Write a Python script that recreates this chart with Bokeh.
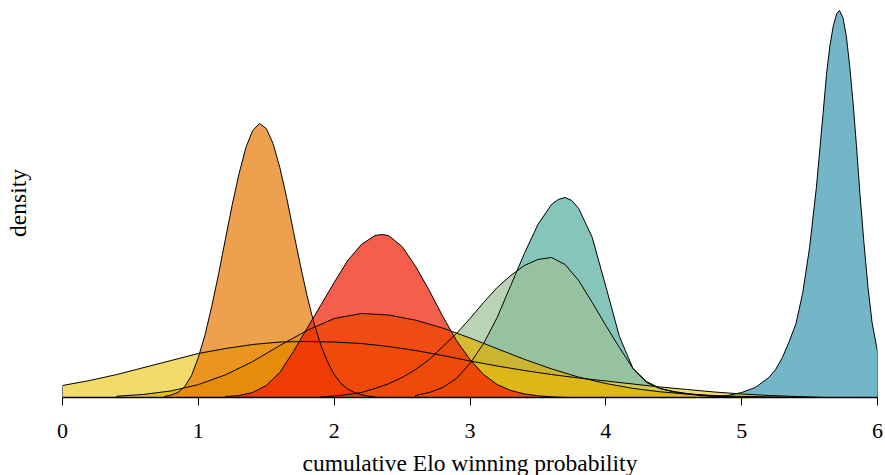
from bokeh.plotting import figure
from bokeh.models import Range1d, FixedTicker
from bokeh.embed import file_html
from bokeh.resources import INLINE

# ---- data (x = cumulative Elo winning probability, y = density, arbitrary units)
blue_x = [4.80, 4.90, 5.00, 5.10, 5.20, 5.25, 5.30, 5.35, 5.40, 5.45, 5.50, 5.55, 5.60, 5.625, 5.65, 5.675, 5.70, 5.72,
          5.745, 5.77, 5.795, 5.82, 5.845, 5.87, 5.90, 5.93, 5.96, 6.00]
blue_y = [0.00, 0.02, 0.05, 0.10, 0.20, 0.28, 0.40, 0.56, 0.74, 1.05, 1.50, 2.10, 2.85, 3.24, 3.52, 3.72, 3.84, 3.87,
          3.80, 3.62, 3.32, 2.95, 2.52, 2.05, 1.55, 1.10, 0.75, 0.46]

teal_x = [2.6, 2.7, 2.8, 2.9, 3.0, 3.1, 3.2, 3.3, 3.4, 3.5, 3.6, 3.65, 3.7, 3.75, 3.8, 3.9, 4.0, 4.1, 4.2, 4.3, 4.4, 4.5, 4.6, 4.7, 4.8, 4.9]
teal_y = [0.02, 0.05, 0.10, 0.19, 0.34, 0.54, 0.80, 1.12, 1.44, 1.73, 1.93, 1.98, 2.00, 1.97, 1.89, 1.60, 1.11, 0.61, 0.29, 0.15, 0.09, 0.055, 0.035, 0.02, 0.01, 0.0]

green_x = [1.9, 2.0, 2.1, 2.2, 2.3, 2.4, 2.5, 2.6, 2.7, 2.8, 2.9, 3.0, 3.1, 3.2, 3.3, 3.4, 3.5, 3.6, 3.7, 3.8, 3.9, 4.0, 4.1, 4.2, 4.3, 4.4, 4.5, 4.6, 4.7, 4.8, 4.9, 5.0]
green_y = [0.005, 0.015, 0.03, 0.05, 0.09, 0.137, 0.20, 0.28, 0.38, 0.51, 0.64, 0.79, 0.95, 1.10, 1.22, 1.32, 1.38, 1.40, 1.33, 1.17, 0.95, 0.72, 0.50, 0.29, 0.16, 0.09, 0.06, 0.04, 0.025, 0.015, 0.008, 0.0]

yellow_x = [0.0, 0.2, 0.4, 0.6, 0.8, 1.0, 1.2, 1.4, 1.6, 1.8, 2.0, 2.2, 2.4, 2.6, 2.8, 3.0, 3.2, 3.4, 3.6, 3.8, 4.0, 4.2, 4.4, 4.6, 4.8, 5.0, 5.2, 5.4, 5.6]
yellow_y = [0.12, 0.17, 0.23, 0.30, 0.37, 0.44, 0.49, 0.53, 0.555, 0.56, 0.555, 0.54, 0.51, 0.47, 0.42, 0.365, 0.315, 0.27, 0.23, 0.195, 0.165, 0.135, 0.105, 0.08, 0.055, 0.035, 0.02, 0.01, 0.0]

gold_x = [0.4, 0.6, 0.8, 1.0, 1.2, 1.4, 1.6, 1.8, 2.0, 2.2, 2.4, 2.6, 2.8, 3.0, 3.2, 3.4, 3.6, 3.8, 4.0, 4.2, 4.4, 4.6, 4.8, 5.0, 5.2, 5.4, 5.6]
gold_y = [0.013, 0.031, 0.066, 0.129, 0.227, 0.36, 0.52, 0.67, 0.79, 0.84, 0.825, 0.773, 0.694, 0.595, 0.488, 0.382, 0.286, 0.204, 0.14, 0.091, 0.057, 0.034, 0.02, 0.011, 0.006, 0.003, 0.0]

orange_x = [0.75, 0.80, 0.85, 0.90, 0.95, 1.00, 1.05, 1.10, 1.15, 1.20, 1.25, 1.30, 1.35, 1.40, 1.45, 1.50, 1.55, 1.60, 1.65, 1.70, 1.75, 1.80, 1.85, 1.90, 1.95, 2.00, 2.05, 2.10, 2.15, 2.20, 2.25, 2.30]
orange_y = [0.01, 0.025, 0.05, 0.11, 0.22, 0.40, 0.63, 0.92, 1.24, 1.59, 1.93, 2.24, 2.50, 2.67, 2.74, 2.69, 2.54, 2.30, 2.00, 1.66, 1.33, 1.02, 0.75, 0.53, 0.36, 0.23, 0.14, 0.085, 0.049, 0.027, 0.014, 0.007]

red_x = [1.2, 1.3, 1.4, 1.5, 1.6, 1.7, 1.8, 1.9, 2.0, 2.1, 2.2, 2.3, 2.35, 2.4, 2.5, 2.6, 2.7, 2.8, 2.9, 3.0, 3.1, 3.2, 3.3, 3.4, 3.5, 3.6, 3.7]
red_y = [0.01, 0.02, 0.05, 0.12, 0.25, 0.46, 0.69, 0.92, 1.15, 1.37, 1.53, 1.62, 1.63, 1.62, 1.51, 1.31, 1.07, 0.81, 0.57, 0.38, 0.23, 0.13, 0.07, 0.036, 0.017, 0.007, 0.0]

x_ticks = [0, 1, 2, 3, 4, 5, 6]

# draw order and colours
series = [
    (blue_x, blue_y, "#3897AF"),
    (teal_x, teal_y, "#53AC9B"),
    (green_x, green_y, "#9EC095"),
    (yellow_x, yellow_y, "#EBCC2A"),
    (gold_x, gold_y, "#E1AF00"),
    (orange_x, orange_y, "#E57702"),
    (red_x, red_y, "#F21A00"),
]

FONT = "Liberation Serif"

p = figure(frame_width=815, frame_height=389,
           x_range=Range1d(0, 6), y_range=Range1d(0, 3.89),
           output_backend="svg", toolbar_location=None,
           min_border_left=62, min_border_right=8, min_border_top=8, min_border_bottom=0)
p.outline_line_color = None
p.grid.visible = False
p.background_fill_color = "white"

polys = []
for xs, ys, col in series:
    px = [xs[0]] + list(xs) + [xs[-1]]
    py = [0] + list(ys) + [0]
    polys.append((px, py))
    p.patch(px, py, fill_color=col, fill_alpha=0.7, line_color=None)
for px, py in polys:
    p.line(px, py, line_color="black", line_width=1)

xa = p.xaxis[0]
xa.ticker = FixedTicker(ticks=x_ticks)
xa.minor_tick_line_color = None
xa.major_tick_in = 0
xa.major_tick_out = 8
xa.axis_line_width = 1.5
xa.axis_line_color = "black"
xa.major_tick_line_color = "black"
xa.major_label_text_font = FONT
xa.major_label_text_font_size = "22px"
xa.major_label_text_color = "black"
xa.major_label_standoff = 18
xa.axis_label = "cumulative Elo winning probability"
xa.axis_label_text_font = FONT
xa.axis_label_text_font_size = "23.5px"
xa.axis_label_text_font_style = "normal"
xa.axis_label_text_color = "black"
xa.axis_label_standoff = 9

ya = p.yaxis[0]
ya.ticker = FixedTicker(ticks=[])
ya.axis_line_color = None
ya.major_tick_line_color = None
ya.minor_tick_line_color = None
ya.major_tick_out = 0
ya.major_tick_in = 0
ya.major_label_standoff = 0
ya.axis_label = "density"
ya.axis_label_text_font = FONT
ya.axis_label_text_font_size = "23.5px"
ya.axis_label_text_font_style = "normal"
ya.axis_label_text_color = "black"
ya.axis_label_standoff = 32

open("out.html", "w").write(file_html(p, INLINE))
